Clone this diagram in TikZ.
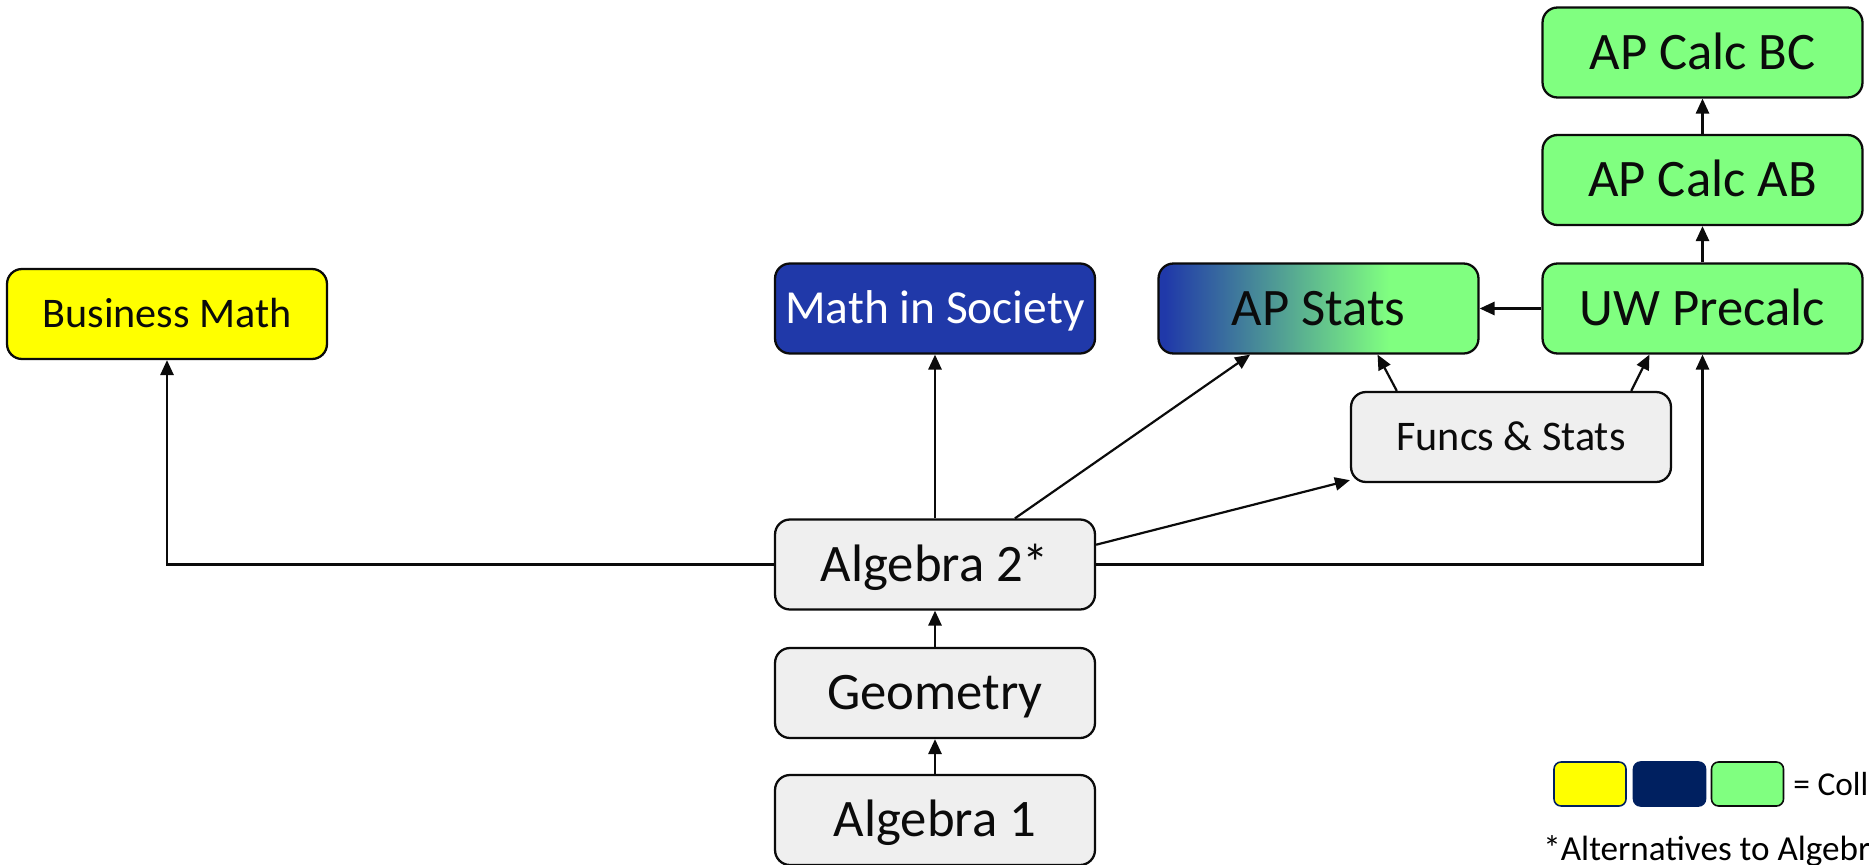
\documentclass[tikz,border=0pt]{standalone}
\usepackage{fontspec}
\setmainfont{Carlito}
\usepackage{xcolor}
\usetikzlibrary{arrows.meta, positioning}
\definecolor{boxgray}{HTML}{EFEFEF}
\definecolor{mgreen}{HTML}{80FF80}
\definecolor{myellow}{HTML}{FFFF00}
\definecolor{mblue}{HTML}{2039A9}
\definecolor{mnavy}{HTML}{002060}
\definecolor{inkOne}{HTML}{0B0B0B}
\pgfdeclarehorizontalshading{statsfade}{100bp}{color(0bp)=(mblue); color(26bp)=(mblue); color(61bp)=(mgreen); color(100bp)=(mgreen)}
\tikzset{
  course/.style={draw=inkOne, line width=1.3pt, rounded corners=8.5pt, minimum width=6.4cm, minimum height=1.8cm,
    inner sep=0pt, text=inkOne},
  bigtext/.style={font=\fontsize{30}{36}\selectfont, text height=19pt, text depth=0pt},
  smalltext/.style={font=\fontsize{24}{29}\selectfont, text height=15pt, text depth=0pt},
  link/.style={-{Triangle[length=8.5pt, width=7.5pt]}, draw=inkOne, line width=1.25pt},
  keybox/.style={rounded corners=4pt, minimum width=1.44cm, minimum height=0.88cm, inner sep=0pt, line width=0.9pt},
}

\begin{document}
\begin{tikzpicture}[x=0.02cm, y=-0.02cm]
  \useasboundingbox (0,0) rectangle (1869,865);
  \clip (0,0) rectangle (1869,865);

  % core sequence
  \node[course, bigtext, fill=boxgray] (alg1) at (935,820) {Algebra 1};
  \node[course, bigtext, fill=boxgray] (geom) at (935,693) {Geometry};
  \node[course, bigtext, fill=boxgray] (alg2) at (935,564.5) {Algebra 2*};

  % options after algebra 2
  \node[course, smalltext, fill=myellow] (busmath) at (167,314) {Business Math};
  \node[course, font=\fontsize{27}{32}\selectfont, text height=17pt, text depth=0pt, fill=mblue, text=white]
    (society) at (935,308.5) {Math in Society};
  \node[course, bigtext, shade, shading=statsfade] (apstats) at (1318.5,308.5) {AP Stats};
  \node[course, smalltext, fill=boxgray] (funcs) at (1511,437) {Funcs \& Stats};
  \node[course, bigtext, fill=mgreen] (precalc) at (1702.5,308.5) {UW Precalc};
  \node[course, bigtext, fill=mgreen] (calcab) at (1702.5,180) {AP Calc AB};
  \node[course, bigtext, fill=mgreen] (calcbc) at (1702.5,52.5) {AP Calc BC};

  \draw[link] (alg1) -- (geom);
  \draw[link] (geom) -- (alg2);
  \draw[link] (alg2.west) -| (busmath.south);
  \draw[link] (alg2) -- (society);
  \draw[link] (alg2.30) -- (apstats.214);
  \draw[link] (alg2.7) -- (funcs.195);
  \draw[link] (alg2.east) -| (precalc.south);
  \draw[link] (funcs.158) -- (apstats.322);
  \draw[link] (funcs.21) -- (precalc.221);
  \draw[link] (precalc) -- (apstats);
  \draw[link] (precalc) -- (calcab);
  \draw[link] (calcab) -- (calcbc);

  % key
  \node[keybox, fill=myellow, draw=mnavy] (keyyellow) at (1590,784) {};
  \node[keybox, fill=mnavy, draw=mnavy] (keynavy) at (1669.5,784) {};
  \node[keybox, fill=mgreen, draw=inkOne] (keygreen) at (1747.5,784) {};
  \node[anchor=west, inner sep=0pt, font=\fontsize{19}{23}\selectfont, text height=12pt, text depth=0pt]
    (keytext) at (1793,785) {= College};
  \node[anchor=base west, inner sep=0pt, font=\fontsize{20}{24}\selectfont] (note) at (1543,860)
    {*Alternatives to Algebra};
\end{tikzpicture}
\end{document}
